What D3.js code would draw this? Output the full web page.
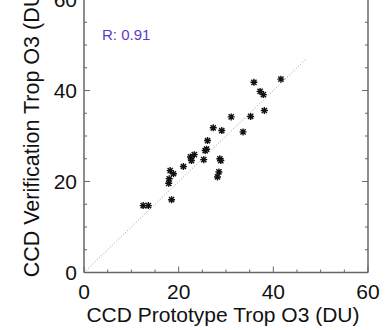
<!DOCTYPE html>
<html>
<head>
<meta charset="utf-8">
<script src="https://cdn.jsdelivr.net/npm/d3@7"></script>
<style>
  body { margin: 0; background: #fff; }
  svg { display: block; font-family: "Liberation Sans", Arial, sans-serif; }
</style>
</head>
<body>
<svg id="chart" width="389" height="330"></svg>
<script>
// prototype vs verification tropospheric ozone (DU)
const prototype_o3 = [35.9, 41.6, 37.2, 37.9, 38.1, 31.1, 35.2, 27.3, 29.1, 33.6,
    26.1, 25.9, 25.6, 23.3, 22.5, 22.7, 25.3, 28.7, 28.9, 21.0,
    18.2, 18.9, 18.0, 17.9, 28.5, 28.2, 18.5, 12.5, 13.6];
const verification_o3 = [41.8, 42.5, 39.8, 39.1, 35.6, 34.2, 34.3, 31.8, 31.2, 30.9,
    29.0, 27.1, 26.8, 25.9, 25.4, 24.6, 24.8, 25.0, 24.6, 23.3,
    22.4, 21.7, 20.6, 19.6, 22.1, 21.0, 16.0, 14.7, 14.7];
const major_ticks = [0, 20, 40, 60];
const minor_ticks = d3.range(0, 61, 5);
const one_to_one = [0, 47];
const r_label = "R: 0.91";

const svg = d3.select('#chart');
const plot_left = 84, plot_right = 368, plot_top = -0.5, plot_bottom = 272.5;
const axis_color = '#666';

const x = d3.scaleLinear().domain([0, 60]).range([plot_left, plot_right]);
const y = d3.scaleLinear().domain([0, 60]).range([plot_bottom, plot_top]);

// 1:1 reference line
svg.append('line')
    .attr('x1', x(one_to_one[0])).attr('y1', y(one_to_one[0]))
    .attr('x2', x(one_to_one[1])).attr('y2', y(one_to_one[1]))
    .attr('stroke', '#999')
    .attr('stroke-width', 1)
    .attr('stroke-dasharray', '1,2');

// axes frame
svg.append('line').attr('x1', plot_left).attr('x2', plot_left).attr('y1', 0).attr('y2', plot_bottom)
    .attr('stroke', axis_color).attr('stroke-width', 1.5);
svg.append('line').attr('x1', plot_right).attr('x2', plot_right).attr('y1', 0).attr('y2', plot_bottom)
    .attr('stroke', axis_color).attr('stroke-width', 1.5);
svg.append('line').attr('x1', plot_left).attr('x2', plot_right).attr('y1', plot_bottom).attr('y2', plot_bottom)
    .attr('stroke', axis_color).attr('stroke-width', 1.5);

const tick_len = d => major_ticks.includes(d) ? 6 : 3;

// bottom ticks (pointing in)
svg.append('g').selectAll('line').data(minor_ticks).join('line')
    .attr('x1', d => x(d)).attr('x2', d => x(d))
    .attr('y1', plot_bottom).attr('y2', d => plot_bottom - tick_len(d))
    .attr('stroke', axis_color).attr('stroke-width', 1);
// left and right ticks
svg.append('g').selectAll('line').data(minor_ticks).join('line')
    .attr('x1', plot_left).attr('x2', d => plot_left + tick_len(d))
    .attr('y1', d => y(d)).attr('y2', d => y(d))
    .attr('stroke', axis_color).attr('stroke-width', 1);
svg.append('g').selectAll('line').data(minor_ticks).join('line')
    .attr('x1', plot_right).attr('x2', d => plot_right - tick_len(d))
    .attr('y1', d => y(d)).attr('y2', d => y(d))
    .attr('stroke', axis_color).attr('stroke-width', 1);

// tick labels
svg.append('g').selectAll('text').data(major_ticks).join('text')
    .attr('x', d => x(d)).attr('y', 299)
    .attr('text-anchor', 'middle')
    .attr('font-size', 21)
    .attr('fill', '#111')
    .text(d => d);
svg.append('g').selectAll('text').data(major_ticks).join('text')
    .attr('x', 77).attr('y', d => y(d) + 7.5)
    .attr('text-anchor', 'end')
    .attr('font-size', 21)
    .attr('fill', '#111')
    .text(d => d);

// axis titles
svg.append('text')
    .attr('x', 223).attr('y', 321.5)
    .attr('text-anchor', 'middle')
    .attr('font-size', 21)
    .attr('fill', '#111')
    .text('CCD Prototype Trop O3 (DU)');
svg.append('text')
    .attr('transform', 'translate(38.5,' + 131 + ') rotate(-90)')
    .attr('text-anchor', 'middle')
    .attr('font-size', 21.5)
    .attr('fill', '#111')
    .text('CCD Verification Trop O3 (DU)');

svg.append('text')
    .attr('x', 102).attr('y', 40)
    .attr('font-size', 15)
    .attr('fill', '#5a3cc8')
    .text(r_label);

// asterisk markers
const star = 'M-3.5,0H3.5M0,-3.5V3.5M-2.6,-2.6L2.6,2.6M-2.6,2.6L2.6,-2.6';
svg.append('g').selectAll('path').data(prototype_o3).join('path')
    .attr('transform', (d, i) => 'translate(' + x(d) + ',' + y(verification_o3[i]) + ')')
    .attr('d', star)
    .attr('stroke', '#111')
    .attr('stroke-width', 1.4)
    .attr('fill', 'none');
</script>
</body>
</html>
